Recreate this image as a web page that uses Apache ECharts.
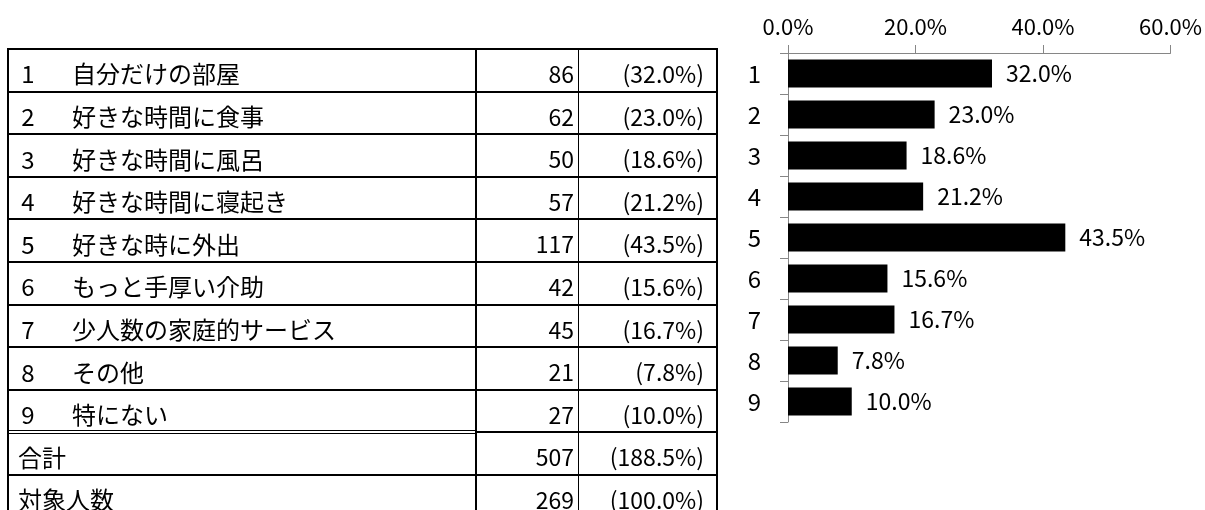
<!DOCTYPE html>
<html>
<head>
<meta charset="utf-8">
<script src="https://cdn.jsdelivr.net/npm/echarts@6/dist/echarts.min.js"></script>
<style>
html,body{margin:0;padding:0;background:#fff;}
#chart{width:1205px;height:510px;}
</style>
</head>
<body>
<div id="chart"></div>
<script>
// ---- data ----
const itemNumbers = ['1','2','3','4','5','6','7','8','9'];
const itemLabels = ['自分だけの部屋','好きな時間に食事','好きな時間に風呂','好きな時間に寝起き','好きな時に外出','もっと手厚い介助','少人数の家庭的サービス','その他','特にない'];
const counts = [86, 62, 50, 57, 117, 42, 45, 21, 27];
const percents = [32.0, 23.0, 18.6, 21.2, 43.5, 15.6, 16.7, 7.8, 10.0];
const summaryLabels = ['合計', '対象人数'];
const summaryCounts = [507, 269];
const summaryPercents = [188.5, 100.0];
const axisTicks = [0, 20, 40, 60];

// ---- layout ----
const JP = '"Noto Sans CJK JP", sans-serif';
const tblLeft = 8, colA = 476, colB = 578, tblRight = 717;
const tblTop = 49, rowH = 42.6;
const nRows = itemLabels.length + summaryLabels.length;

const graphics = [];
function hline(y, x1, x2, w) {
  graphics.push({type:'line', silent:true, shape:{x1:x1, y1:y, x2:x2, y2:y}, style:{stroke:'#000', lineWidth:w}});
}
function vline(x, y1, y2, w) {
  graphics.push({type:'line', silent:true, shape:{x1:x, y1:y1, x2:x, y2:y2}, style:{stroke:'#000', lineWidth:w}});
}
function txt(s, x, y, align, size, family) {
  graphics.push({type:'text', silent:true, x:x, y:y, style:{text:s, fill:'#000', fontSize:size, fontFamily:family, align:align, verticalAlign:'middle'}});
}
const tblBottom = tblTop + rowH * nRows;
for (let r = 0; r <= nRows; r++) {
  const y = Math.round(tblTop + rowH * r);
  if (r === itemLabels.length) {
    hline(y - 1.5, tblLeft, colA, 1);
    hline(y + 1.5, tblLeft, colA, 1);
    hline(y, colA, tblRight, 2);
  } else {
    hline(y, tblLeft - 1, tblRight + 1, 2);
  }
}
vline(tblLeft, tblTop, tblBottom, 2);
vline(colA, tblTop, tblBottom, 2);
vline(colB + 0.5, tblTop, tblBottom, 1);
vline(tblRight, tblTop, tblBottom, 2);

function fmtPct(v){ return '(' + v.toFixed(1) + '%)'; }
for (let i = 0; i < itemLabels.length; i++) {
  const cy = tblTop + rowH * (i + 0.5) + 4;
  txt(itemNumbers[i], 28, cy, 'center', 24, JP);
  txt(itemLabels[i], 72, cy, 'left', 24, JP);
  txt(String(counts[i]), 574, cy, 'right', 23, JP);
  txt(fmtPct(percents[i]), 704, cy, 'right', 23, JP);
}
for (let j = 0; j < summaryLabels.length; j++) {
  const cy = tblTop + rowH * (itemLabels.length + j + 0.5) + 4;
  txt(summaryLabels[j], 18, cy, 'left', 24, JP);
  txt(String(summaryCounts[j]), 574, cy, 'right', 23, JP);
  txt(fmtPct(summaryPercents[j]), 704, cy, 'right', 23, JP);
}

const chart = echarts.init(document.getElementById('chart'), null, {renderer:'canvas'});
chart.setOption({
  animation: false,
  backgroundColor: '#fff',
  grid: {left: 788, right: 33, top: 53, bottom: 88, containLabel: false},
  xAxis: {
    type: 'value', position: 'top',
    min: axisTicks[0], max: axisTicks[axisTicks.length - 1], interval: axisTicks[1] - axisTicks[0],
    axisLine: {show: true, lineStyle: {color: '#868686', width: 1}},
    axisTick: {show: true, inside: false, length: 8, lineStyle: {color: '#868686'}},
    splitLine: {show: false},
    axisLabel: {margin: 15, color: '#000', fontSize: 22, fontFamily: JP,
      formatter: v => v.toFixed(1) + '%'}
  },
  yAxis: {
    type: 'category', inverse: true, data: itemNumbers,
    axisLine: {show: true, lineStyle: {color: '#868686', width: 1}},
    axisTick: {show: true, length: 8, alignWithLabel: false, lineStyle: {color: '#868686'}},
    axisLabel: {margin: 27, color: '#000', fontSize: 24, fontFamily: JP}
  },
  series: [{
    type: 'bar', data: percents, barCategoryGap: '32%',
    itemStyle: {color: '#000'},
    label: {show: true, position: 'right', distance: 14, color: '#000', fontSize: 23, fontFamily: JP,
      formatter: p => p.value.toFixed(1) + '%'}
  }],
  graphic: graphics
});
</script>
</body>
</html>
